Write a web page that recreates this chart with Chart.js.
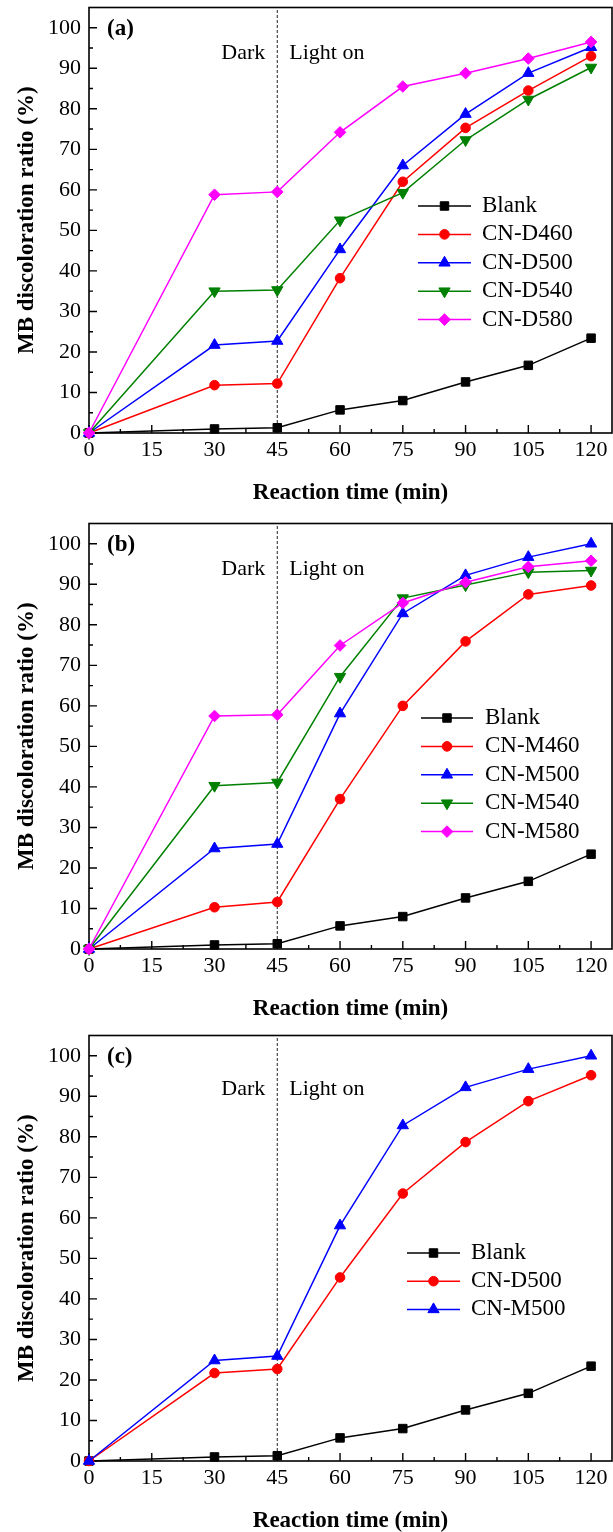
<!DOCTYPE html>
<html><head><meta charset="utf-8">
<script src="https://cdn.jsdelivr.net/npm/chart.js@4.4.1/dist/chart.umd.min.js"></script>
<style>
html,body{margin:0;padding:0;background:#fff;overflow:hidden;width:613px;height:1532px;position:relative;}
canvas{position:absolute;left:0;}
</style></head><body>
<canvas id="ca" width="613" height="520" style="top:0px"></canvas>
<canvas id="cb" width="613" height="520" style="top:516px"></canvas>
<canvas id="cc" width="613" height="520" style="top:1028px"></canvas>
<script>
// ---- data ----
const times = [0, 30, 45, 60, 75, 90, 105, 120];
const xTickValues = [0, 15, 30, 45, 60, 75, 90, 105, 120];
const yTickValues = [0, 10, 20, 30, 40, 50, 60, 70, 80, 90, 100];

const blank   = [0, 1.0, 1.3, 5.7, 8.0, 12.6, 16.7, 23.4];
const cnD460  = [0, 11.8, 12.2, 38.2, 62.0, 75.3, 84.5, 93.0];
const cnD500  = [0, 21.7, 22.7, 45.3, 66.0, 78.7, 88.8, 95.2];
const cnD540  = [0, 35.0, 35.3, 52.5, 59.3, 72.3, 82.3, 90.2];
const cnD580  = [0, 58.8, 59.5, 74.2, 85.5, 88.8, 92.4, 96.5];

const cnM460  = [0, 10.3, 11.6, 37.0, 60.0, 75.9, 87.5, 89.7];
const cnM500  = [0, 24.8, 25.9, 58.1, 82.8, 92.2, 96.7, 100.0];
const cnM540  = [0, 40.3, 41.1, 67.2, 86.6, 89.8, 93.0, 93.4];
const cnM580  = [0, 57.5, 57.8, 74.9, 85.4, 90.5, 94.3, 95.8];

// ---- styles ----
const FONT = '"Liberation Serif","Times New Roman",serif';
const STY = {
  black:   {color:'#000000', shape:'rect',     r:6},
  red:     {color:'#ff0000', shape:'circle',   r:4.8},
  blue:    {color:'#0000ff', shape:'triangle', r:6.5},
  green:   {color:'#008000', shape:'triangle', r:6.5, rot:180},
  magenta: {color:'#ff00ff', shape:'rectRot',  r:5.8}
};

function ds(label, values, st, i, n) {
  return {
    label,
    data: times.map((t, k) => ({x: t, y: values[k]})),
    borderColor: st.color, backgroundColor: st.color,
    pointBackgroundColor: st.color, pointBorderColor: st.color,
    borderWidth: 1.5, pointBorderWidth: 1,
    pointStyle: st.shape, pointRadius: st.r, pointRotation: st.rot || 0,
    tension: 0, clip: false, order: n - i, _st: st
  };
}
function build(list) { return list.map((e, i) => ds(e[0], e[1], e[2], i, list.length)); }

const framePlugin = {
  id: 'frame',
  beforeDatasetsDraw(chart, args, o) {
    const {ctx, chartArea: a, scales: {x, y}} = chart;
    ctx.save();
    const xd = x.getPixelForValue(o.divider);
    ctx.strokeStyle = '#222'; ctx.lineWidth = 1; ctx.setLineDash([3, 2]);
    ctx.beginPath(); ctx.moveTo(xd, a.bottom); ctx.lineTo(xd, a.top); ctx.stroke();
    ctx.setLineDash([]);
    ctx.strokeStyle = '#000'; ctx.lineWidth = 1.6;
    ctx.strokeRect(a.left, a.top, a.right - a.left, a.bottom - a.top);
    ctx.lineWidth = 1.4;
    ctx.beginPath();
    xTickValues.forEach((v, i) => {
      const px = x.getPixelForValue(v);
      ctx.moveTo(px, a.bottom); ctx.lineTo(px, a.bottom - 8);
      if (i < xTickValues.length - 1) {
        const pm = x.getPixelForValue((v + xTickValues[i + 1]) / 2);
        ctx.moveTo(pm, a.bottom); ctx.lineTo(pm, a.bottom - 4);
      }
    });
    yTickValues.forEach((v, i) => {
      const py = y.getPixelForValue(v);
      ctx.moveTo(a.left, py); ctx.lineTo(a.left + 8, py);
      if (i < yTickValues.length - 1) {
        const pm = y.getPixelForValue((v + yTickValues[i + 1]) / 2);
        ctx.moveTo(a.left, pm); ctx.lineTo(a.left + 4, pm);
      }
    });
    ctx.stroke();
    ctx.fillStyle = '#000';
    ctx.font = '22px ' + FONT; ctx.textBaseline = 'middle';
    const ty = y.getPixelForValue(o.textValue);
    ctx.textAlign = 'right'; ctx.fillText('Dark', xd - 12, ty);
    ctx.textAlign = 'left'; ctx.fillText('Light on', xd + 12, ty);
    ctx.font = 'bold 23px ' + FONT;
    ctx.fillText(o.label, a.left + 18, y.getPixelForValue(100) + 1);
    ctx.restore();
  },
  afterDatasetsDraw(chart, args, o) {
    const ctx = chart.ctx;
    ctx.save();
    chart.data.datasets.forEach((d, i) => {
      const st = d._st;
      const ry = o.legendTop + i * o.legendStep;
      ctx.strokeStyle = st.color; ctx.fillStyle = st.color; ctx.lineWidth = 1.5;
      ctx.beginPath(); ctx.moveTo(o.lx0, ry); ctx.lineTo(o.lx1, ry); ctx.stroke();
      ctx.lineWidth = 1;
      Chart.helpers.drawPoint(ctx, {pointStyle: st.shape, radius: st.r, rotation: st.rot || 0, borderWidth: 1}, (o.lx0 + o.lx1) / 2, ry);
      ctx.fillStyle = '#000';
      ctx.font = '23px ' + FONT; ctx.textBaseline = 'middle'; ctx.textAlign = 'left';
      ctx.fillText(d.label, o.tx, ry);
    });
    ctx.restore();
  }
};

function zeroPad(s) { s.paddingTop = 0; s.paddingBottom = 0; s.paddingLeft = 0; s.paddingRight = 0; }

function makeChart(id, datasets, cfg) {
  new Chart(document.getElementById(id), {
    type: 'line',
    data: {datasets},
    options: {
      responsive: false, animation: false, devicePixelRatio: 1,
      layout: {autoPadding: false, padding: {top: 7.5, right: 1, left: 0, bottom: 0}},
      plugins: {legend: {display: false}, tooltip: {enabled: false}, frame: cfg},
      scales: {
        x: {
          type: 'linear', min: 0, max: 125,
          afterFit(s) { s.height = 87; zeroPad(s); },
          afterBuildTicks(s) { s.ticks = xTickValues.map(v => ({value: v})); },
          grid: {display: false, drawTicks: false}, border: {display: false},
          ticks: {font: {family: FONT, size: 22}, color: '#000', padding: 4, maxRotation: 0, autoSkip: false},
          title: {display: true, text: 'Reaction time (min)', color: '#000',
                  font: {family: FONT, size: 23, weight: 'bold'}, padding: {top: 0, bottom: 13.5}}
        },
        y: {
          type: 'linear', min: 0, max: 105,
          afterFit(s) { s.width = 89; zeroPad(s); },
          afterBuildTicks(s) { s.ticks = yTickValues.map(v => ({value: v})); },
          grid: {display: false, drawTicks: false}, border: {display: false},
          ticks: {font: {family: FONT, size: 22}, color: '#000', padding: 8},
          title: {display: true, text: 'MB discoloration ratio (%)', color: '#000',
                  font: {family: FONT, size: 23, weight: 'bold'}, padding: {top: 13, bottom: 0}}
        }
      }
    },
    plugins: [framePlugin]
  });
}

makeChart('ca', build([
  ['Blank', blank, STY.black], ['CN-D460', cnD460, STY.red], ['CN-D500', cnD500, STY.blue],
  ['CN-D540', cnD540, STY.green], ['CN-D580', cnD580, STY.magenta]
]), {divider: 45, textValue: 93.6, label: '(a)', legendTop: 206, legendStep: 28.4, lx0: 418, lx1: 471, tx: 482});

makeChart('cb', build([
  ['Blank', blank, STY.black], ['CN-M460', cnM460, STY.red], ['CN-M500', cnM500, STY.blue],
  ['CN-M540', cnM540, STY.green], ['CN-M580', cnM580, STY.magenta]
]), {divider: 45, textValue: 93.6, label: '(b)', legendTop: 202, legendStep: 28.4, lx0: 421, lx1: 473, tx: 485});

makeChart('cc', build([
  ['Blank', blank, STY.black], ['CN-D500', cnD500, STY.red], ['CN-M500', cnM500, STY.blue]
]), {divider: 45, textValue: 91.7, label: '(c)', legendTop: 225, legendStep: 28.2, lx0: 407, lx1: 460, tx: 471});
</script>
</body></html>
